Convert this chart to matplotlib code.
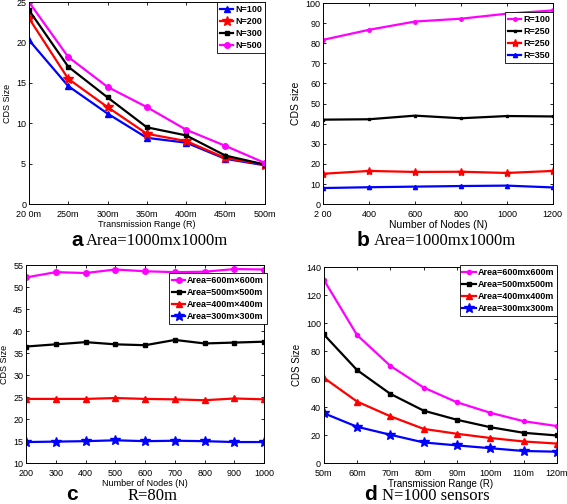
import numpy as np
import matplotlib
matplotlib.use("Agg")
import matplotlib.pyplot as plt

plt.rcParams['font.family'] = ['Liberation Sans', 'DejaVu Sans']

# panel a: CDS size vs transmission range, area 1000x1000
a_labels = ['20 0m', '250m', '300m', '350m', '400m', '450m', '500m']
a_n100 = [20.3, 14.6, 11.2, 8.2, 7.6, 5.6, 4.8]
a_n200 = [23.0, 15.5, 12.0, 8.7, 7.8, 5.7, 4.9]
a_n300 = [24.0, 17.0, 13.2, 9.5, 8.5, 6.0, 4.9]
a_n500 = [25.0, 18.2, 14.5, 12.0, 9.2, 7.2, 5.1]

# panel b: CDS size vs number of nodes
b_nodes = [200, 400, 600, 800, 1000, 1200]
b_labels = ['2 00', '400', '600', '800', '1000', '1200']
b_r100 = [81.7, 86.7, 90.8, 92.2, 94.7, 96.3]
b_r250a = [42.0, 42.2, 44.0, 42.7, 43.8, 43.6]
b_r250b = [15.1, 16.5, 16.0, 16.1, 15.5, 16.5]
b_r350 = [8.0, 8.4, 8.7, 9.0, 9.2, 8.3]

# panel c: CDS size vs number of nodes, R=80m
c_nodes = [200, 300, 400, 500, 600, 700, 800, 900, 1000]
c_600 = [52.2, 53.4, 53.2, 54.0, 53.6, 53.4, 53.5, 54.1, 54.0]
c_500 = [36.5, 37.0, 37.5, 37.0, 36.8, 38.0, 37.2, 37.4, 37.6]
c_400 = [24.6, 24.6, 24.6, 24.8, 24.6, 24.5, 24.3, 24.7, 24.5]
c_300 = [14.8, 14.9, 15.0, 15.2, 15.0, 15.1, 15.0, 14.8, 14.8]

# panel d: CDS size vs transmission range, N=1000
d_labels = ['50m', '60m', '70m', '80m', '90m', '100m', '110m', '120m']
d_600 = [131.0, 91.5, 69.5, 54.0, 43.5, 36.0, 30.0, 26.5]
d_500 = [92.0, 66.5, 49.5, 37.5, 31.0, 25.7, 21.7, 19.8]
d_400 = [61.0, 44.0, 33.5, 24.5, 21.0, 18.0, 15.5, 14.0]
d_300 = [35.7, 26.0, 20.3, 14.8, 12.7, 10.7, 8.7, 8.2]

fig = plt.figure(figsize=(5.67, 5.04), dpi=100)

def style(ax):
    ax.tick_params(direction='in', length=2.5, width=0.6, labelsize=6.5,
                   top=True, right=True, pad=2)
    ax.tick_params(axis='x', pad=4)
    for s in ax.spines.values():
        s.set_linewidth(0.7)

def leg(ax, loc, **kw):
    l = ax.legend(loc=loc, fontsize=6.5, handlelength=1.5, borderpad=0.3,
                  labelspacing=0.35, handletextpad=0.2, fancybox=False,
                  framealpha=1, edgecolor='black', **kw)
    l.get_frame().set_linewidth(0.6)
    for t in l.get_texts():
        t.set_fontweight('bold')
    return l

lw = 1.6
ms = 4

# a
ax = fig.add_axes([0.051, 0.595, 0.416, 0.401])
xa = np.arange(len(a_labels))
ax.plot(xa, a_n100, '-^', color='blue', lw=lw, ms=ms, label='N=100')
ax.plot(xa, a_n200, '-*', color='red', lw=lw, ms=ms + 3, label='N=200')
ax.plot(xa, a_n300, '-s', color='black', lw=lw, ms=ms - 1, label='N=300')
ax.plot(xa, a_n500, '-o', color='magenta', lw=lw, ms=ms, label='N=500')
ax.set_xlim(0, len(a_labels) - 1)
ax.set_ylim(0, 25)
ax.set_xticks(xa)
ax.set_xticklabels(a_labels)
ax.set_yticks([0, 5, 10, 15, 20, 25])
ax.set_xlabel('Transmission Range (R)', fontsize=6.5, labelpad=1)
ax.set_ylabel('CDS Size', fontsize=6.5, labelpad=3)
style(ax)
leg(ax, 'upper right', borderaxespad=0.0)

# b
ax = fig.add_axes([0.570, 0.595, 0.405, 0.399])
ax.plot(b_nodes, b_r100, '-o', color='magenta', lw=lw, ms=ms - 1.5, label='R=100')
ax.plot(b_nodes, b_r250a, '-s', color='black', lw=lw, ms=ms - 2, label='R=250')
ax.plot(b_nodes, b_r250b, '-*', color='red', lw=lw, ms=ms + 2, label='R=250')
ax.plot(b_nodes, b_r350, '-^', color='blue', lw=lw, ms=ms - 1, label='R=350')
ax.set_xlim(200, 1200)
ax.set_ylim(0, 100)
ax.set_xticks(b_nodes)
ax.set_xticklabels(b_labels)
ax.set_yticks(range(0, 101, 10))
ax.set_xlabel('Number of Nodes (N)', fontsize=7.5, labelpad=1)
ax.set_ylabel('CDS size', fontsize=7.5, labelpad=3)
style(ax)
leg(ax, 'upper right', bbox_to_anchor=(1.0, 0.955), borderaxespad=0.0)

# c
ax = fig.add_axes([0.046, 0.081, 0.420, 0.393])
ax.plot(c_nodes, c_600, '-o', color='magenta', lw=lw, ms=ms, label='Area=600m×600m')
ax.plot(c_nodes, c_500, '-s', color='black', lw=lw, ms=ms - 1, label='Area=500m×500m')
ax.plot(c_nodes, c_400, '-^', color='red', lw=lw, ms=ms, label='Area=400m×400m')
ax.plot(c_nodes, c_300, '-*', color='blue', lw=lw, ms=ms + 3, label='Area=300m×300m')
ax.set_xlim(200, 1000)
ax.set_ylim(10, 55)
ax.set_xticks(c_nodes)
ax.set_yticks(range(10, 56, 5))
ax.set_xlabel('Number of Nodes (N)', fontsize=6.5, labelpad=1)
ax.set_ylabel('CDS Size', fontsize=6.5, labelpad=3)
style(ax)
leg(ax, 'upper right', bbox_to_anchor=(1.01, 0.96), borderaxespad=0.0)

# d
ax = fig.add_axes([0.571, 0.081, 0.411, 0.389])
xd = np.arange(len(d_labels))
ax.plot(xd, d_600, '-o', color='magenta', lw=lw, ms=ms - 1, label='Area=600mx600m')
ax.plot(xd, d_500, '-s', color='black', lw=lw, ms=ms - 1, label='Area=500mx500m')
ax.plot(xd, d_400, '-^', color='red', lw=lw, ms=ms, label='Area=400mx400m')
ax.plot(xd, d_300, '-*', color='blue', lw=lw, ms=ms + 3, label='Area=300mx300m')
ax.set_xlim(0, len(d_labels) - 1)
ax.set_ylim(0, 140)
ax.set_xticks(xd)
ax.set_xticklabels(d_labels)
ax.set_yticks(range(0, 141, 20))
ax.set_xlabel('Transmission Range (R)', fontsize=7, labelpad=1)
ax.set_ylabel('CDS Size', fontsize=7, labelpad=3)
style(ax)
leg(ax, 'upper right', bbox_to_anchor=(1.0, 1.01), borderaxespad=0.0)

# captions
cap = dict(fontsize=12, family=['Liberation Serif', 'DejaVu Serif'], va='center')
let = dict(fontsize=15, fontweight='bold', va='center')
fig.text(71 / 567, 1 - 240 / 504, 'a', **let)
fig.text(86 / 567, 1 - 241 / 504, 'Area=1000mx1000m', **cap)
fig.text(357 / 567, 1 - 240 / 504, 'b', **let)
fig.text(374 / 567, 1 - 241 / 504, 'Area=1000mx1000m', **cap)
fig.text(66 / 567, 1 - 495 / 504, 'c', **let)
fig.text(128 / 567, 1 - 496 / 504, 'R=80m', **cap)
fig.text(364 / 567, 1 - 495 / 504, 'd', **let)
fig.text(382 / 567, 1 - 496 / 504, 'N=1000 sensors', **cap)

fig.savefig('out.png', dpi=100)
